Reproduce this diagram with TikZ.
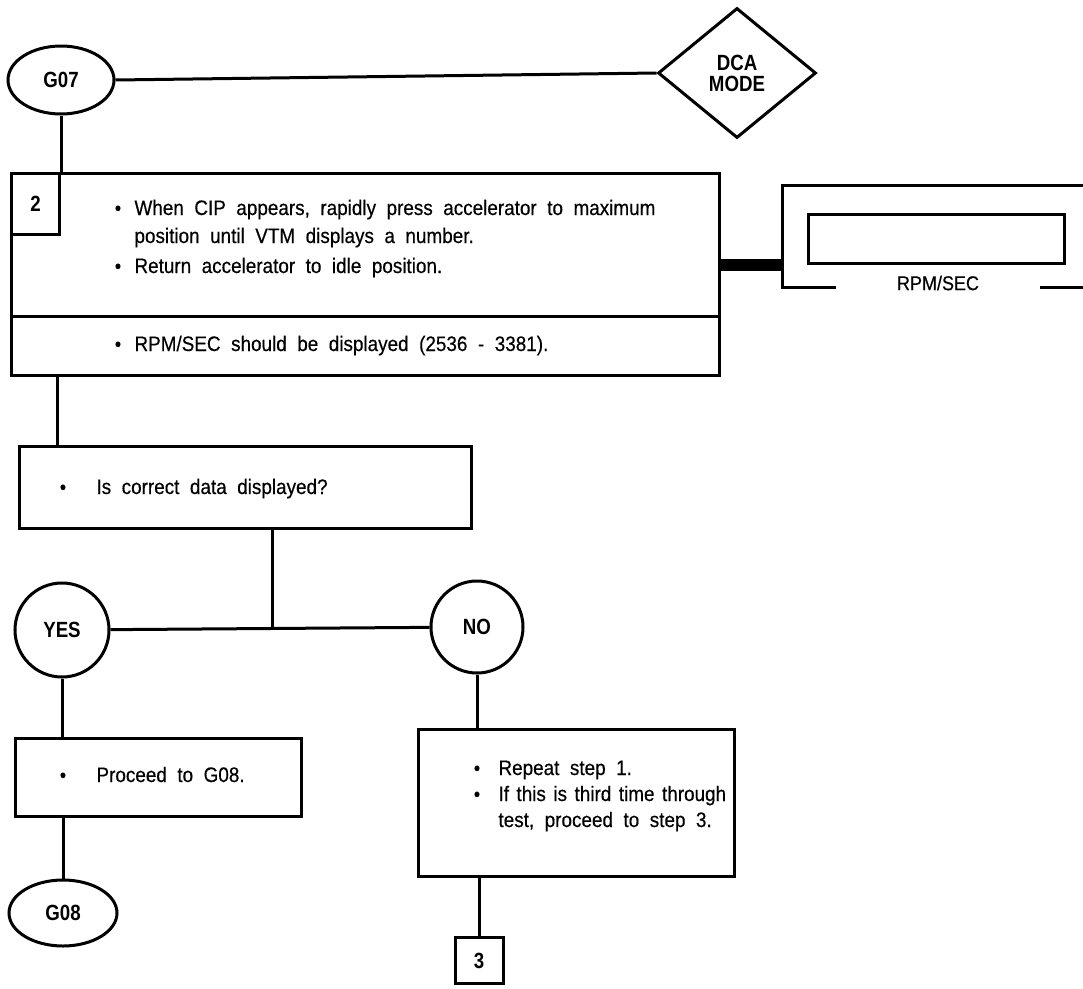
\documentclass[tikz,border=0pt]{standalone}
\usepackage{fontspec}
\setmainfont{Liberation Sans}[WordSpace=2,FakeStretch=0.9,FakeBold=0.4]
\newfontfamily\lblfont{Liberation Sans}[FakeStretch=0.85]
\usetikzlibrary{shapes.geometric}
\begin{document}
\begin{tikzpicture}[x=1pt,y=-1pt,line width=3pt,
  lbl/.style={font=\lblfont\fontsize{22}{24}\selectfont\bfseries},
  txt/.style={font=\fontsize{21}{24}\selectfont,anchor=base west,inner sep=0},
  bul/.style={font=\fontsize{20}{22}\selectfont,anchor=base,inner sep=0},
  boxn/.style={draw,anchor=north west,inner sep=0},
  term/.style={draw,ellipse,inner sep=0,lbl},
  dec/.style={draw,circle,inner sep=0,lbl}]
\useasboundingbox (0,0) rectangle (1083,988);

% top terminal and mode diamond
\node[term,minimum width=106,minimum height=68] (g07) at (61,80) {G07};
\node[draw,diamond,inner sep=0,minimum width=158,minimum height=130,lbl,align=center] (dca) at (737,73) {DCA\\[-3pt]MODE};
\draw (g07.east) -- (dca.west);

% step 2 box
\node[boxn,minimum width=708,minimum height=202] (step) at (10,172) {};
\node[boxn,minimum width=48,minimum height=61,lbl] (n2) at (step.north west) {2};
\draw (g07.south) -- (g07.south |- step.north);
\coordinate (dv) at (0,316);
\draw (step.west |- dv) -- (step.east |- dv);
\node[bul] (b1) at (118,215) {•};
\node[txt] (t1) at (133,215) {When CIP appears, rapidly press accelerator to maximum};
\node[txt] (t2) at (133,243) {position until VTM displays a number.};
\node[bul] (b3) at (118,273) {•};
\node[txt] (t3) at (133,273) {Return accelerator to idle position.};
\node[bul] (b4) at (118,351) {•};
\node[txt] (t4) at (133,351) {RPM/SEC should be displayed (2536 - 3381).};

% display
\coordinate (dl) at (782,265);
\draw[line width=12pt] (step.east |- dl) -- (dl);
\draw (1083,185) -- (782,185) -- (782,287) -- (836,287);
\draw (1040,287) -- (1083,287);
\node[draw,anchor=north west,minimum width=256,minimum height=49,inner sep=0] (scr) at (807,213) {};
\node[font=\fontsize{20}{22}\selectfont,inner sep=0] (rps) at (938,283) {RPM/SEC};

% question
\node[boxn,minimum width=452,minimum height=82] (q) at (18,445) {};
\draw ([xshift=47]step.south west) -- ([xshift=47]step.south west |- q.north);
\node[bul] (bq) at (63,494) {•};
\node[txt] (tq) at (95,494) {Is correct data displayed?};

% yes / no
\node[dec,minimum size=94] (yes) at (62,630) {YES};
\node[dec,minimum size=92] (no) at (477,627) {NO};
\draw (yes) -- (no);
\coordinate (j) at (272,628);
\draw (q.south -| j) -- (j);

% yes branch
\node[boxn,minimum width=286,minimum height=78] (p) at (14,737) {};
\draw (yes.south) -- (yes.south |- p.north);
\node[bul] (bp) at (63,782) {•};
\node[txt] (tp) at (95,782) {Proceed to G08.};
\node[term,minimum width=108,minimum height=66] (g08) at (63,913) {G08};
\draw (g08.north |- p.south) -- (g08.north);

% no branch
\node[boxn,minimum width=316,minimum height=147] (r) at (417,728) {};
\draw (no.south) -- (no.south |- r.north);
\node[bul] (br1) at (477,775) {•};
\node[txt] (tr1) at (497,775) {Repeat step 1.};
\node[bul] (br2) at (477,801) {•};
\node[txt] (tr2) at (497,801) {\spaceskip=7.5pt\relax If this is third time through};
\node[txt] (tr3) at (497,827) {test, proceed to step 3.};
\node[draw,anchor=north,minimum width=48,minimum height=46,inner sep=0,lbl] (n3) at (479,936) {3};
\draw (n3.north |- r.south) -- (n3.north);
\end{tikzpicture}
\end{document}
